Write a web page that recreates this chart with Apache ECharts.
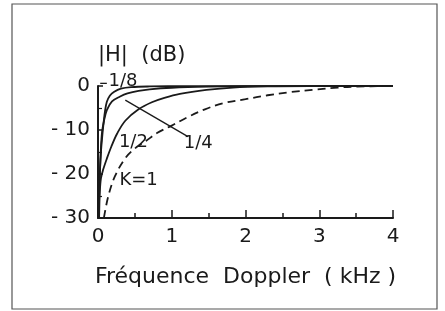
<!DOCTYPE html>
<html>
<head>
<meta charset="utf-8">
<script src="https://cdn.jsdelivr.net/npm/echarts@6/dist/echarts.min.js"></script>
<style>
  html, body { margin: 0; padding: 0; background: #fff; }
  #main { width: 445px; height: 311px; }
</style>
</head>
<body>
<div id="main"></div>
<script>
// points: [frequence kHz, |H| dB]
var k8 = [[0.005,-30],[0.02,-22],[0.04,-15],[0.06,-11],[0.075,-8.5],[0.095,-5.7],[0.12,-3.6],[0.16,-2.2],[0.22,-1.3],[0.31,-0.6],[0.45,-0.25],[0.7,-0.1],[1.2,-0.02],[4,0]];
var k4 = [[0.008,-30],[0.025,-20],[0.04,-14],[0.055,-10.5],[0.08,-8],[0.12,-5.5],[0.19,-3.5],[0.3,-2.4],[0.4,-1.7],[0.55,-1.1],[0.7,-0.75],[1,-0.4],[1.5,-0.15],[2,-0.05],[4,0]];
var k2 = [[0.015,-30],[0.025,-24],[0.04,-21],[0.07,-19],[0.12,-16.5],[0.18,-13.8],[0.26,-10.8],[0.37,-7.9],[0.55,-5.3],[0.73,-3.7],[0.9,-2.7],[1.11,-1.8],[1.47,-0.9],[1.83,-0.35],[2.3,-0.1],[3,-0.02],[4,0]];
var k1 = [[0.08,-30],[0.14,-25],[0.23,-20.5],[0.37,-16.4],[0.5,-14.2],[0.65,-12.5],[0.8,-10.7],[1,-9],[1.2,-7.2],[1.45,-5.3],[1.7,-3.9],[2,-3],[2.3,-2.1],[2.6,-1.4],[2.95,-0.8],[3.25,-0.35],[3.5,-0.15],[4,0]];
var curveNames = ['1/8', '1/4', '1/2', 'K=1'];
// annotation positions in data units
var notes = [[0.34, 1.1, '1/8'], [1.36, -13, '1/4'], [0.48, -12.8, '1/2'], [0.55, -21.4, 'K=1']];
var leader14 = [[0.37, -3.2], [1.22, -11.5]];
var leader18 = [[0.03, 0.6], [0.12, 0.6]];

var font = 'DejaVu Sans';
var myChart = echarts.init(document.getElementById('main'));

function line(name, data, dashed) {
    return {
        name: name,
        type: 'line',
        data: data,
        smooth: 0.35,
        showSymbol: false,
        lineStyle: { color: '#1a1a1a', width: 1.8, type: dashed ? [8, 5] : 'solid' },
        silent: true
    };
}

var option = {
    animation: false,
    backgroundColor: '#fff',
    title: {
        text: '|H|  (dB)',
        left: 93, top: 40,
        textStyle: { fontFamily: font, fontSize: 21, fontWeight: 'normal', color: '#1a1a1a' }
    },
    grid: { left: 98, right: 52, top: 86, bottom: 93, containLabel: false },
    xAxis: {
        type: 'value', min: 0, max: 4, interval: 1,
        name: 'Fréquence  Doppler  ( kHz )',
        nameLocation: 'middle', nameGap: 48,
        nameTextStyle: { fontFamily: font, fontSize: 22, color: '#1a1a1a' },
        axisLine: { onZero: false, lineStyle: { color: '#1a1a1a', width: 2 } },
        axisTick: { inside: true, length: 8, lineStyle: { color: '#1a1a1a', width: 1.5 } },
        minorTick: { show: true, splitNumber: 2, length: 5, lineStyle: { color: '#1a1a1a', width: 1.5 } },
        axisLabel: { fontFamily: font, fontSize: 20, color: '#1a1a1a', margin: 9 },
        splitLine: { show: false }
    },
    yAxis: {
        type: 'value', min: -30, max: 0, interval: 10,
        axisLine: { onZero: false, lineStyle: { color: '#1a1a1a', width: 2 } },
        axisTick: { inside: true, length: 5, lineStyle: { color: '#1a1a1a', width: 1.5 } },
        minorTick: { show: true, splitNumber: 2, length: 4, lineStyle: { color: '#1a1a1a', width: 1.2 } },
        axisLabel: {
            fontFamily: font, fontSize: 20, color: '#1a1a1a', margin: 8,
            formatter: function (v) { return v === 0 ? '0' : '- ' + (-v); }
        },
        splitLine: { show: false }
    },
    series: [
        line(curveNames[0], k8, false),
        line(curveNames[1], k4, false),
        line(curveNames[2], k2, false),
        line(curveNames[3], k1, true)
    ]
};

myChart.setOption(option);

// frame and curve annotations
var g = [{
    type: 'rect', shape: { x: 12, y: 4, width: 425, height: 305 },
    style: { fill: null, stroke: '#555', lineWidth: 1.2 }, silent: true
}];
notes.forEach(function (n) {
    var p = myChart.convertToPixel({ gridIndex: 0 }, [n[0], n[1]]);
    g.push({
        type: 'text', x: p[0], y: p[1],
        style: { text: n[2], fontFamily: font, fontSize: 18, fill: '#1a1a1a', align: 'center', verticalAlign: 'middle' },
        silent: true
    });
});
[leader14, leader18].forEach(function (l) {
    var a = myChart.convertToPixel({ gridIndex: 0 }, l[0]);
    var b = myChart.convertToPixel({ gridIndex: 0 }, l[1]);
    g.push({
        type: 'line', shape: { x1: a[0], y1: a[1], x2: b[0], y2: b[1] },
        style: { stroke: '#1a1a1a', lineWidth: 1.3 }, silent: true
    });
});
myChart.setOption({ graphic: g });

window.onresize = function () {
    myChart.resize();
};
</script>
</body>
</html>
